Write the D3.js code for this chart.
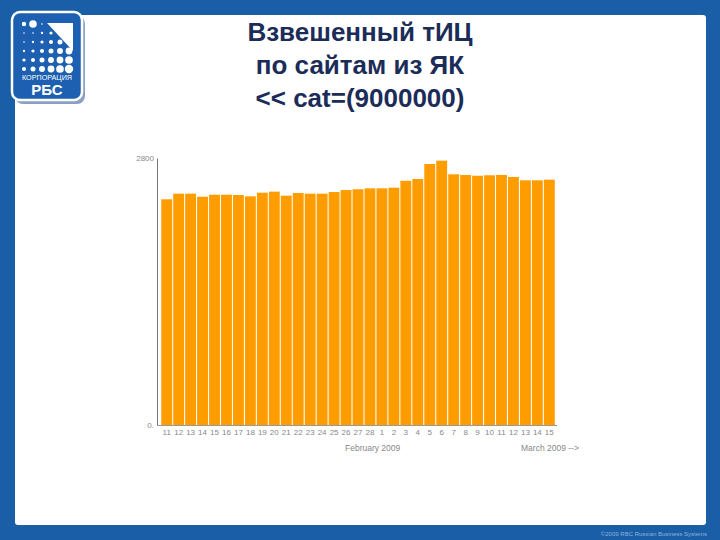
<!DOCTYPE html>
<html><head><meta charset="utf-8">
<script src="https://cdn.jsdelivr.net/npm/d3@7"></script>
<style>body{margin:0;background:#1b5ea8}svg{display:block}</style>
</head><body>
<script>
const titleLines = ["Взвешенный тИЦ", "по сайтам из ЯК", "<< cat=(9000000)"];
const days = ["11","12","13","14","15","16","17","18","19","20","21","22","23","24","25","26","27","28",
              "1","2","3","4","5","6","7","8","9","10","11","12","13","14","15"];
const values = [2367,2426,2426,2394,2415,2415,2412,2398,2436,2447,2405,2433,2426,2426,2443,2464,2472,2482,
                2482,2489,2561,2580,2737,2772,2629,2622,2614,2619,2622,2601,2566,2566,2573];
const yTicks = [0, 2800];
const yTickLabels = ["0.", "2800"];
const monthLabels = ["February 2009", "March 2009 -->"];
const footer = "©2009 RBC Russian Business Systems";

const W = 720, H = 540;
const svg = d3.select("body").append("svg").attr("width", W).attr("height", H);

// frame
svg.append("rect").attr("width", W).attr("height", H).attr("fill", "#1b5ea8");
svg.append("rect").attr("x", 15).attr("y", 15).attr("width", 691).attr("height", 510).attr("rx", 3).attr("fill", "#ffffff");

// logo
const logo = svg.append("g");
logo.append("rect").attr("x", 13).attr("y", 14).attr("width", 70).attr("height", 88).attr("rx", 8)
  .attr("fill", "#15428a").attr("opacity", 0.5).attr("transform", "translate(2,2)");
logo.append("rect").attr("x", 12).attr("y", 12).attr("width", 70).attr("height", 88).attr("rx", 8)
  .attr("fill", "#1d5fb0").attr("stroke", "#ffffff").attr("stroke-width", 2.5);
logo.append("path").attr("d", "M47,23 L73,23 L73,51 Z").attr("fill", "#ffffff");
const dots = [];
for (let r = 0; r < 6; r++) for (let c = 0; c < 6; c++) {
  const x = 24 + c * 9, y = 24 + r * 9;
  if (r < 3 && c > 2 + r) continue;
  dots.push({x, y, rad: r===0 && c<2 ? (c===0?2.2:3.8) : Math.max(0.8, Math.min(4.2, (c + r) * 0.45 - 0.2))});
}
logo.selectAll("circle").data(dots).join("circle")
  .attr("cx", d => d.x).attr("cy", d => d.y).attr("r", d => d.rad).attr("fill", "#ffffff");
logo.append("text").attr("x", 47).attr("y", 80).attr("text-anchor", "middle")
  .attr("font-family", "Liberation Sans, Arial, sans-serif").attr("font-size", 7.2).attr("fill", "#ffffff").text("КОРПОРАЦИЯ");
logo.append("text").attr("x", 47).attr("y", 95).attr("text-anchor", "middle")
  .attr("font-family", "Liberation Sans, Arial, sans-serif").attr("font-weight", "bold").attr("font-size", 15).attr("fill", "#ffffff").text("РБС");

// title
svg.append("g").selectAll("text").data(titleLines).join("text")
  .attr("x", 360).attr("y", (d, i) => 41 + i * 33).attr("text-anchor", "middle")
  .attr("font-family", "Liberation Sans, Arial, sans-serif").attr("font-size", 26)
  .attr("font-weight", "bold").attr("fill", "#1c2c58").text(d => d);

// chart
const x = d3.scaleBand().domain(d3.range(values.length)).range([161, 555]).paddingInner(0.09).paddingOuter(0.02);
const y = d3.scaleLinear().domain([0, 2800]).range([425, 158]);

svg.append("g").selectAll("rect").data(values).join("rect")
  .attr("x", (d, i) => x(i)).attr("width", x.bandwidth())
  .attr("y", d => y(d)).attr("height", d => y(0) - y(d))
  .attr("fill", "#ff9c00");

const yAxis = svg.append("g").attr("transform", "translate(157,0)")
  .call(d3.axisLeft(y).tickValues(yTicks).tickSize(0).tickPadding(3)
    .tickFormat((d, i) => yTickLabels[i]));
yAxis.select(".domain").attr("stroke", "#777");
yAxis.selectAll("text").attr("font-family", "Liberation Sans, Arial, sans-serif").attr("font-size", 8).attr("fill", "#888");

const xAxis = svg.append("g").attr("transform", "translate(0,425)")
  .call(d3.axisBottom(x).tickSize(0).tickPadding(4).tickFormat(i => days[i]));
xAxis.select(".domain").attr("stroke", "#999").attr("d", "M157,0.5H557");
xAxis.selectAll("text").attr("font-family", "Liberation Sans, Arial, sans-serif").attr("font-size", 8).attr("fill", "#888");

svg.append("g").selectAll("text").data(monthLabels).join("text")
  .attr("x", (d, i) => i === 0 ? 345 : 521).attr("y", 451)
  .attr("font-family", "Liberation Sans, Arial, sans-serif").attr("font-size", 8.5).attr("fill", "#888").text(d => d);

svg.append("text").attr("x", 707).attr("y", 536).attr("text-anchor", "end")
  .attr("font-family", "Liberation Sans, Arial, sans-serif").attr("font-size", 6).attr("fill", "#8fb0dd").text(footer);
</script>
</body></html>
